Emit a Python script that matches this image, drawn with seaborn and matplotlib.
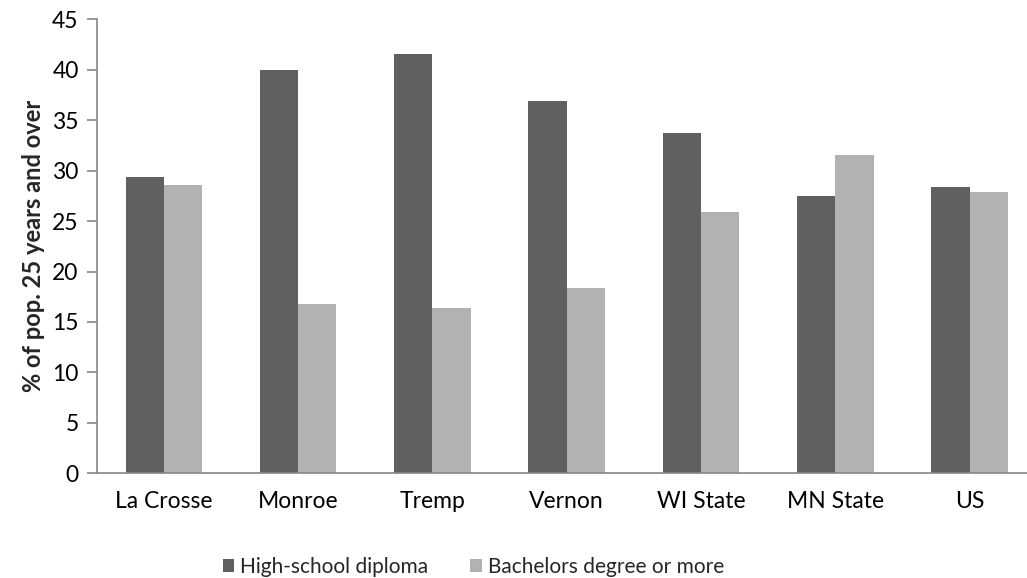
import matplotlib
matplotlib.use("Agg")
import matplotlib.pyplot as plt
import pandas as pd
import seaborn as sns

places = ["La Crosse", "Monroe", "Tremp", "Vernon", "WI State", "MN State", "US"]
high_school = [29.4, 40.0, 41.6, 36.9, 33.7, 27.5, 28.4]
bachelors = [28.6, 16.8, 16.4, 18.4, 25.9, 31.6, 27.9]
series_names = ["High-school diploma", "Bachelors degree or more"]
y_ticks = [0, 5, 10, 15, 20, 25, 30, 35, 40, 45]

df = pd.DataFrame({
    "place": places * 2,
    "value": high_school + bachelors,
    "series": [series_names[0]] * len(places) + [series_names[1]] * len(places),
})

sns.set_style("white")
plt.rcParams["font.family"] = ["Lato", "DejaVu Sans"]

fig = plt.figure(figsize=(10.27, 5.78), dpi=100)
ax = fig.add_axes([0.0942, 0.1811, 0.9058, 0.7855])

sns.barplot(
    data=df, x="place", y="value", hue="series",
    palette=["#606060", "#b2b2b2"], width=0.57,
    linewidth=0, saturation=1, ax=ax,
)

ax.set_xlim(-0.5, 6.427)
ax.set_ylim(0, 45)
ax.set_yticks(y_ticks)
ax.tick_params(axis="y", labelsize=16.5, length=7, width=1.2, color="#868686",
               left=True, pad=6, labelcolor="black")
ax.tick_params(axis="x", labelsize=16.5, length=0, pad=13, labelcolor="black")
ax.set_xlabel("")
ax.set_ylabel("% of pop. 25 years and over", fontsize=17, weight="bold", labelpad=5)

for side in ["top", "right"]:
    ax.spines[side].set_visible(False)
for side in ["left", "bottom"]:
    ax.spines[side].set_color("#868686")
    ax.spines[side].set_linewidth(1.2)

handles, labels = ax.get_legend_handles_labels()
ax.legend_.remove()
fig.legend(
    handles, labels, loc="center", bbox_to_anchor=(0.461, 0.019),
    ncol=2, frameon=False, fontsize=15, handlelength=0.55, handleheight=0.55,
    handletextpad=0.3, columnspacing=2.0,
)

fig.savefig("out.png", dpi=100)
